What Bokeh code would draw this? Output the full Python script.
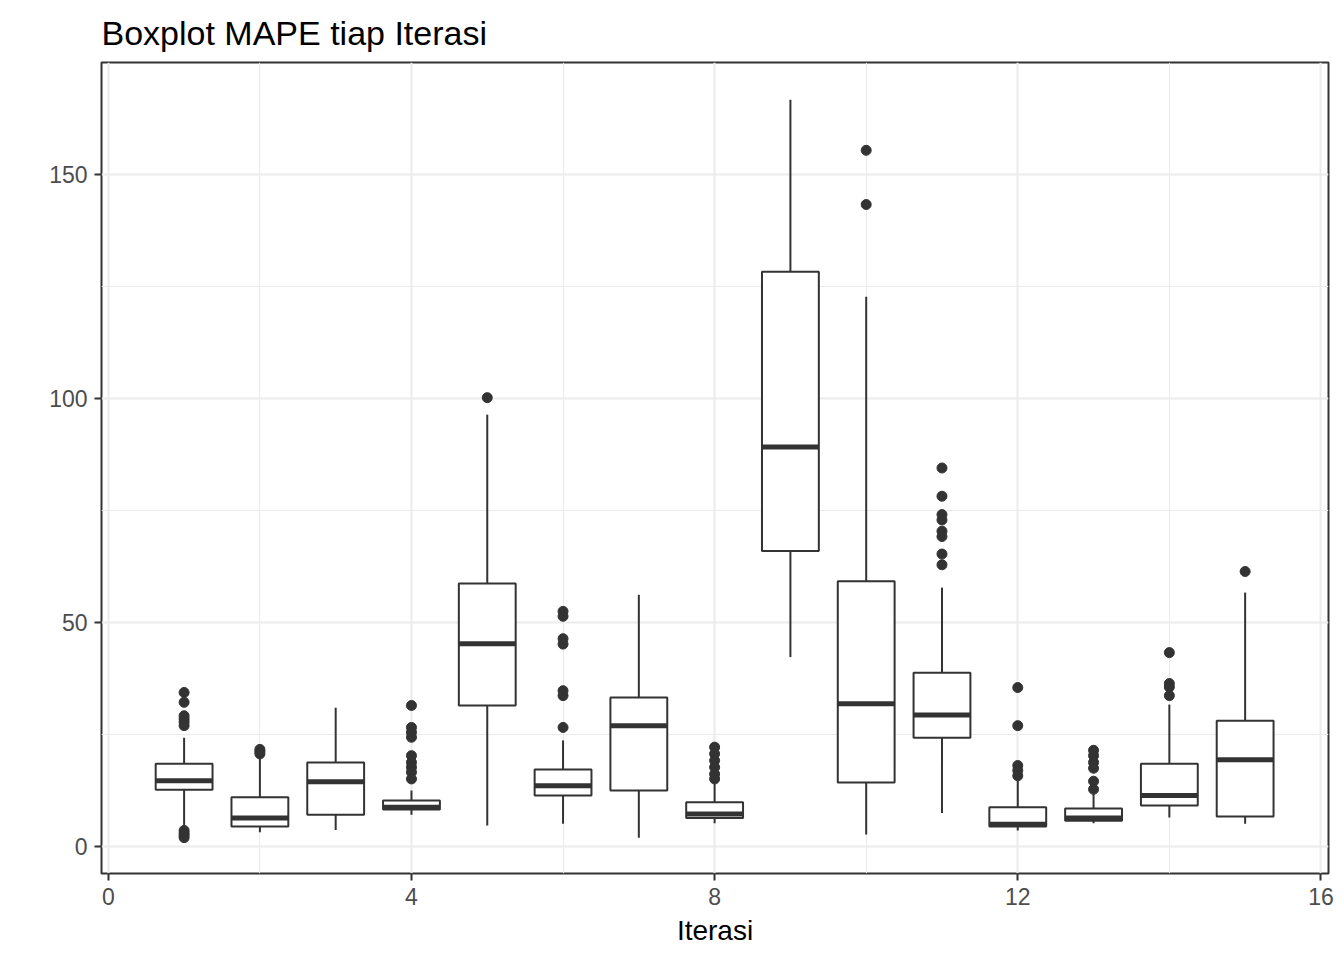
from bokeh.plotting import figure
from bokeh.models import Range1d, FixedTicker
from bokeh.embed import file_html
from bokeh.resources import INLINE

# five-number summaries, one entry per iteration
iterasi = list(range(1, 16))
lower = [4.3, 3.2, 3.7, 7.1, 4.7, 5.1, 2.0, 5.2, 42.3, 2.7, 7.5, 3.6, 5.2, 6.5, 5.1]
q1 = [12.7, 4.5, 7.1, 8.3, 31.5, 11.4, 12.5, 6.4, 66.0, 14.3, 24.3, 4.5, 5.8, 9.2, 6.7]
median = [14.7, 6.4, 14.5, 8.8, 45.3, 13.6, 27.0, 7.3, 89.2, 31.9, 29.4, 5.0, 6.4, 11.4, 19.4]
q3 = [18.5, 11.0, 18.8, 10.3, 58.7, 17.2, 33.3, 9.9, 128.3, 59.2, 38.8, 8.8, 8.5, 18.5, 28.1]
upper = [24.3, 19.7, 31.0, 12.5, 96.4, 23.7, 56.2, 14.1, 166.7, 122.7, 57.8, 14.7, 11.8, 31.7, 56.7]
outliers = [
    [34.4, 32.2, 29.2, 28.5, 27.8, 27.0, 3.6, 3.0, 2.5, 2.0],
    [21.7, 21.2, 20.7],
    [],
    [31.5, 26.6, 25.5, 24.4, 20.3, 18.8, 17.7, 16.6, 15.1],
    [100.2],
    [52.5, 51.4, 46.4, 45.2, 34.8, 33.7, 26.6],
    [],
    [22.2, 20.7, 19.2, 17.7, 16.2, 15.1],
    [],
    [155.4, 143.3],
    [84.5, 78.2, 74.1, 72.9, 70.4, 69.2, 65.3, 62.9],
    [35.5, 27.0, 18.1, 17.0, 15.8],
    [21.5, 20.3, 18.8, 17.5, 14.6, 12.8],
    [43.3, 36.4, 35.6, 33.7],
    [61.4],
]

BOX_W = 0.75
INK = "#333333"
FONT = "Liberation Sans"

p = figure(width=1336, height=952, title="Boxplot MAPE tiap Iterasi",
           x_range=Range1d(-0.09, 16.1), y_range=Range1d(-6.0, 175.0),
           output_backend="svg", toolbar_location=None,
           min_border_left=101, min_border_right=8,
           min_border_top=62, min_border_bottom=79)

p.title.text_font = FONT
p.title.text_font_size = "34px"
p.title.text_font_style = "normal"
p.title.text_color = "black"
p.title.align = "left"
p.title.standoff = 21

p.background_fill_color = "white"
p.border_fill_color = "white"
p.outline_line_color = INK
p.outline_line_width = 2

p.xaxis.ticker = FixedTicker(ticks=[0, 4, 8, 12, 16], minor_ticks=[2, 6, 10, 14])
p.yaxis.ticker = FixedTicker(ticks=[0, 50, 100, 150], minor_ticks=[25, 75, 125])
p.xaxis.axis_label = "Iterasi"

for ax in (p.xaxis, p.yaxis):
    ax.axis_line_color = None
    ax.major_tick_line_color = INK
    ax.major_tick_line_width = 2
    ax.major_tick_out = 7
    ax.major_tick_in = 0
    ax.minor_tick_line_color = None
    ax.major_label_text_font = FONT
    ax.major_label_text_font_size = "23px"
    ax.major_label_text_color = "#4d4d4d"
    ax.major_label_standoff = 7
    ax.axis_label_text_font = FONT
    ax.axis_label_text_font_size = "28px"
    ax.axis_label_text_font_style = "normal"
    ax.axis_label_text_color = "black"
    ax.axis_label_standoff = 7

for g in (p.xgrid, p.ygrid):
    g.grid_line_color = "#ebebeb"
    g.grid_line_width = 2
    g.minor_grid_line_color = "#ebebeb"
    g.minor_grid_line_width = 1

# whiskers
p.segment(x0=iterasi, y0=q3, x1=iterasi, y1=upper, line_color=INK, line_width=2)
p.segment(x0=iterasi, y0=lower, x1=iterasi, y1=q1, line_color=INK, line_width=2)

# boxes
p.vbar(x=iterasi, width=BOX_W, bottom=q1, top=q3,
       fill_color="white", line_color=INK, line_width=2)

# medians
left = [x - BOX_W / 2 for x in iterasi]
right = [x + BOX_W / 2 for x in iterasi]
p.segment(x0=left, y0=median, x1=right, y1=median, line_color=INK, line_width=5)

# outliers
ox = [x for x, vals in zip(iterasi, outliers) for _ in vals]
oy = [v for vals in outliers for v in vals]
p.scatter(ox, oy, size=10, fill_color=INK, line_color=INK)

open("out.html", "w").write(file_html(p, INLINE))
